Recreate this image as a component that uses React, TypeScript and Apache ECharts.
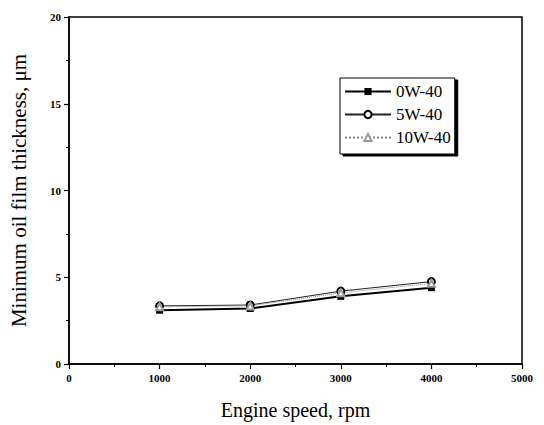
import React, { useEffect, useRef } from "react";
import * as echarts from "echarts";

const speeds = [1000, 2000, 3000, 4000];
const oil0W40 = [3.1, 3.2, 3.9, 4.4];
const oil5W40 = [3.35, 3.4, 4.2, 4.75];
const oil10W40 = [3.3, 3.35, 4.1, 4.65];
const seriesNames = ["0W-40", "5W-40", "10W-40"];

const FONT = "Liberation Serif";

export default function App() {
  const ref = useRef<HTMLDivElement>(null);
  useEffect(() => {
    if (!ref.current) return;
    const chart = echarts.init(ref.current, undefined, { renderer: "svg" });
    const pair = (ys: number[]) => speeds.map((x, i) => [x, ys[i]]);
    const axisCommon = {
      axisLine: { show: true, onZero: false, lineStyle: { color: "#000", width: 1.5 } },
      splitLine: { show: false },
      axisTick: { show: true, inside: false, length: 5, lineStyle: { color: "#000", width: 1.2 } },
      minorTick: { show: true, splitNumber: 2, length: 3, lineStyle: { color: "#000", width: 1 } },
      axisLabel: {
        color: "#000",
        fontFamily: FONT,
        fontSize: 11,
        fontWeight: "bold",
        formatter: (v: number) => String(v),
      },
    };
    chart.setOption({
      animation: false,
      backgroundColor: "#fff",
      grid: { left: 66, right: 22, top: 17, bottom: 60, show: true, borderColor: "#000", borderWidth: 1.5 },
      xAxis: {
        type: "value",
        min: 0,
        max: 5000,
        interval: 1000,
        name: "Engine speed, rpm",
        nameLocation: "middle",
        nameGap: 36,
        nameTextStyle: { color: "#000", fontFamily: FONT, fontSize: 20 },
        ...axisCommon,
      },
      yAxis: {
        type: "value",
        min: 0,
        max: 20,
        interval: 5,
        name: "Minimum oil film thickness, μm",
        nameLocation: "middle",
        nameGap: 40,
        nameTextStyle: { color: "#000", fontFamily: FONT, fontSize: 21 },
        ...axisCommon,
      },
      legend: {
        orient: "vertical",
        left: 340,
        top: 78,
        width: 108,
        itemWidth: 46,
        itemHeight: 9,
        itemGap: 6,
        padding: [5, 4, 8, 4],
        backgroundColor: "#fff",
        borderColor: "#000",
        borderWidth: 1,
        shadowColor: "#000",
        shadowOffsetX: 3,
        shadowOffsetY: 2,
        shadowBlur: 0,
        textStyle: { color: "#000", fontFamily: FONT, fontSize: 17 },
        data: seriesNames,
      },
      series: [
        {
          name: seriesNames[0],
          type: "line",
          data: pair(oil0W40),
          symbol: "rect",
          symbolSize: 7,
          itemStyle: { color: "#000" },
          lineStyle: { color: "#000", width: 2 },
        },
        {
          name: seriesNames[1],
          type: "line",
          data: pair(oil5W40),
          symbol: "emptyCircle",
          symbolSize: 7,
          itemStyle: { color: "#000", borderColor: "#000", borderWidth: 1 },
          lineStyle: { color: "#222", width: 1 },
        },
        {
          name: seriesNames[2],
          type: "line",
          data: pair(oil10W40),
          symbol: "emptyTriangle",
          symbolSize: 7,
          itemStyle: { color: "#999", borderColor: "#999", borderWidth: 1 },
          lineStyle: { color: "#888", width: 1, type: "dotted" },
        },
      ],
    });
    return () => chart.dispose();
  }, []);
  return <div ref={ref} style={{ width: 544, height: 425, position: "absolute", left: 0, top: 0 }} />;
}
